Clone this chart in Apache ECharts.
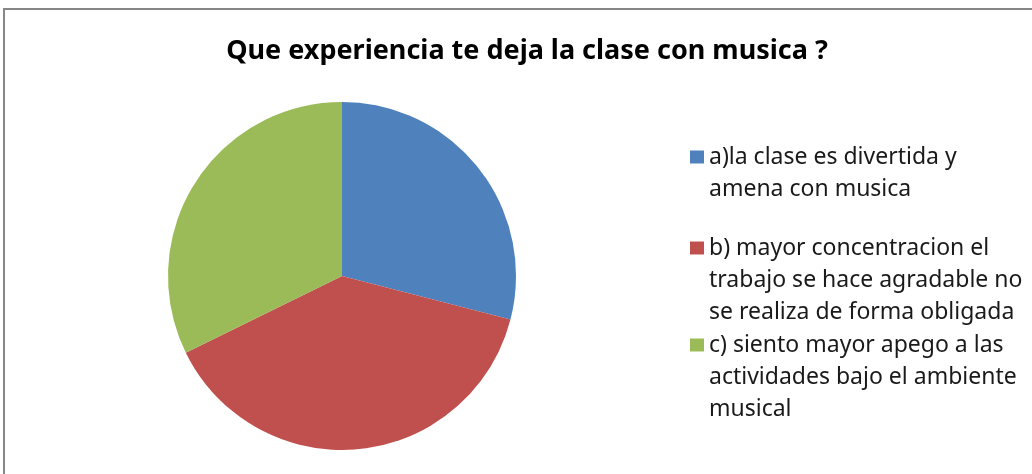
<!DOCTYPE html>
<html>
<head>
<meta charset="utf-8">
<script src="https://cdn.jsdelivr.net/npm/echarts@6/dist/echarts.min.js"></script>
<style>
  html, body { margin: 0; padding: 0; background: #fff; }
  #chart { width: 1032px; height: 474px; }
</style>
</head>
<body>
<div id="chart"></div>
<script>
const chartTitle = 'Que experiencia te deja la clase con musica ?';
const categories = [
    'a)la clase es divertida y\namena con musica',
    'b) mayor concentracion el\ntrabajo se hace agradable no\nse realiza de forma obligada',
    'c) siento mayor apego a las\nactividades bajo el ambiente\nmusical'
];
const values = [9, 12, 10];
const colors = ['#4F81BD', '#C0504D', '#9BBB59'];

const LINE = 32;
// first line centres of each legend entry
const legendLineY = [157, 248, 345];

// the legend centres the text on the marker, so pad the text with
// empty lines above to keep the marker next to the first line
const padLines = (name) => {
    const n = name.split('\n').length;
    return '\n'.repeat(n - 1) + name;
};

const legends = categories.map((name, i) => {
    const lines = name.split('\n').length;
    return {
        orient: 'vertical',
        left: 690,
        top: legendLineY[i] - (2 * lines - 1) * LINE / 2,
        padding: 0,
        icon: 'rect',
        itemWidth: 14,
        itemHeight: 13,
        selectedMode: false,
        data: [name],
        formatter: padLines,
        textStyle: {
            fontFamily: 'Noto Sans',
            fontSize: 23,
            color: '#1a1a1a',
            lineHeight: LINE
        }
    };
});

const chart = echarts.init(document.getElementById('chart'));
chart.setOption({
    animation: false,
    color: colors,
    title: {
        text: chartTitle,
        left: 522,
        top: 33,
        textAlign: 'center',
        textStyle: {
            fontFamily: 'Noto Sans',
            fontWeight: 'bold',
            fontSize: 27,
            color: '#000'
        }
    },
    graphic: [{
        type: 'rect',
        shape: { x: 4, y: 9, width: 1100, height: 600 },
        style: { fill: 'none', stroke: '#868686', lineWidth: 2 },
        silent: true
    }],
    legend: legends,
    series: [{
        type: 'pie',
        center: [342, 276],
        radius: 174,
        startAngle: 90,
        clockwise: true,
        label: { show: false },
        labelLine: { show: false },
        itemStyle: { borderWidth: 0 },
        emphasis: { disabled: true },
        data: categories.map((name, i) => ({ name: name, value: values[i] }))
    }]
});
</script>
</body>
</html>
